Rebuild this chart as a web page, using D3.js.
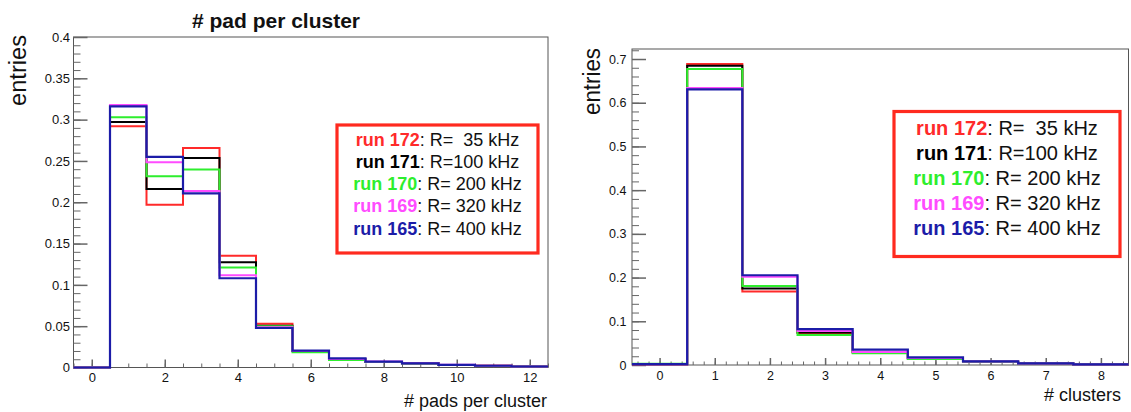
<!DOCTYPE html>
<html><head><meta charset="utf-8">
<script src="https://cdn.jsdelivr.net/npm/d3@7"></script>
<style>
html,body{margin:0;padding:0;background:#fff;}
svg text{font-family:"Liberation Sans",Arial,Helvetica,sans-serif;}
.leg text{white-space:pre;}
</style></head><body>
<svg id="c" width="1131" height="412"></svg>
<script>
// ---- data ----
const runs = ["172","171","170","169","165"];
const rates = ["R=  35 kHz","R=100 kHz","R= 200 kHz","R= 320 kHz","R= 400 kHz"];
const colors = ["#ff2a2a","#000000","#2eee2e","#ff4cff","#1c1ca8"];

const padBins = [0,1,2,3,4,5,6,7,8,9,10,11,12];
const pad172 = [0,0.292,0.197,0.2656,0.1352,0.0530,0.0200,0.0100,0.0068,0.0050,0.0031,0.0020,0.0011];
const pad171 = [0,0.297,0.216,0.2536,0.1275,0.0506,0.0200,0.0100,0.0068,0.0050,0.0031,0.0020,0.0011];
const pad170 = [0,0.303,0.2316,0.2396,0.1210,0.0498,0.0186,0.0092,0.0066,0.0048,0.0030,0.0019,0.0011];
const pad169 = [0,0.3176,0.2484,0.2136,0.1117,0.0486,0.0200,0.0102,0.0073,0.0051,0.0032,0.0020,0.0012];
const pad165 = [0,0.316,0.2548,0.2108,0.1080,0.0478,0.0205,0.0110,0.0070,0.0050,0.0032,0.0021,0.0012];

const cluBins = [0,1,2,3,4,5,6,7,8];
const clu172 = [0.002,0.6885,0.168,0.0730,0.0290,0.0150,0.0075,0.0035,0.0012];
const clu171 = [0.002,0.6847,0.175,0.0745,0.0290,0.0150,0.0075,0.0035,0.0012];
const clu170 = [0.003,0.6770,0.181,0.0684,0.0266,0.0137,0.0072,0.0033,0.0012];
const clu169 = [0.002,0.6336,0.202,0.0780,0.0300,0.0160,0.0078,0.0036,0.0013];
const clu165 = [0.002,0.6305,0.2053,0.0821,0.0350,0.0175,0.0082,0.0038,0.0013];

const leftYTicks = [0,0.05,0.1,0.15,0.2,0.25,0.3,0.35,0.4];
const leftXTicks = [0,2,4,6,8,10,12];
const rightYTicks = [0,0.1,0.2,0.3,0.4,0.5,0.6,0.7];
const rightXTicks = [0,1,2,3,4,5,6,7,8];

const svg = d3.select("#c");

function panel(o){
  const x = d3.scaleLinear().domain(o.xd).range(o.xr);
  const y = d3.scaleLinear().domain(o.yd).range(o.yr);
  const g = svg.append("g");
  // frame
  g.append("rect").attr("x",o.xr[0]).attr("y",o.yr[1]).attr("width",o.xr[1]-o.xr[0]).attr("height",o.yr[0]-o.yr[1])
    .attr("fill","none").attr("stroke","#555").attr("stroke-width",1);
  // minor y
  const ym = g.append("g").attr("transform",`translate(${o.xr[0]},0)`)
    .call(d3.axisLeft(y).tickValues(o.yMinor).tickSize(-o.ymLen).tickFormat(""));
  ym.select(".domain").remove();
  ym.selectAll("line").attr("stroke","#666");
  const yM = g.append("g").attr("transform",`translate(${o.xr[0]},0)`)
    .call(d3.axisLeft(y).tickValues(o.yTicks).tickSize(-o.yMLen).tickPadding(o.yPad)
      .tickFormat(d=>String(+d.toFixed(2))));
  yM.select(".domain").remove();
  yM.selectAll("line").attr("stroke","#666").attr("stroke-width",1.5);
  yM.selectAll("text").attr("font-size",o.tickFs).attr("fill","#111");
  // x
  const xm = g.append("g").attr("transform",`translate(0,${o.yr[0]})`)
    .call(d3.axisBottom(x).tickValues(o.xMinor).tickSize(-o.xmLen).tickFormat(""));
  xm.select(".domain").remove();
  xm.selectAll("line").attr("stroke","#666");
  const xM = g.append("g").attr("transform",`translate(0,${o.yr[0]})`)
    .call(d3.axisBottom(x).tickValues(o.xTicks).tickSize(-o.xMLen).tickPadding(o.xPad).tickFormat(d=>String(d)));
  xM.select(".domain").remove();
  xM.selectAll("line").attr("stroke","#666").attr("stroke-width",1.5);
  xM.selectAll("text").attr("font-size",o.tickFs).attr("fill","#111");
  // histograms
  const line = d3.line().x(d=>x(d[0])).y(d=>y(d[1])).curve(d3.curveStepAfter);
  o.series.forEach((s,i)=>{
    const pts = o.bins.map((b,j)=>[b-0.5,s[j]]);
    pts.push([o.bins[o.bins.length-1]+0.5,s[s.length-1]]);
    g.append("path").attr("d",line(pts)).attr("fill","none")
      .attr("stroke",colors[i]).attr("stroke-width",i===4?2.2:2);
  });
  // axis titles
  g.append("text").attr("transform",`translate(${o.yLab[0]},${o.yLab[1]}) rotate(-90)`)
    .attr("text-anchor","end").attr("font-size",23).attr("fill","#111")
    .attr("textLength",o.yLab[2]).attr("lengthAdjust","spacingAndGlyphs").text("entries");
  g.append("text").attr("x",o.xLab[0]).attr("y",o.xLab[1]).attr("text-anchor","end")
    .attr("font-size",18).attr("fill","#111").text(o.xTitle);
  // legend
  const L = o.leg;
  const lg = g.append("g").attr("class","leg");
  lg.append("rect").attr("x",L.x0).attr("y",L.y0).attr("width",L.x1-L.x0).attr("height",L.y1-L.y0)
    .attr("fill","#fff").attr("stroke","#ff2a1f").attr("stroke-width",3.2);
  runs.forEach((r,i)=>{
    const t = lg.append("text").attr("x",(L.x0+L.x1)/2).attr("y",L.b0+i*L.dy)
      .attr("text-anchor","middle").attr("font-size",L.fs).attr("xml:space","preserve");
    t.append("tspan").attr("font-weight","bold").attr("fill",colors[i]).text("run "+r);
    t.append("tspan").attr("fill","#111").text(": "+rates[i]);
  });
}

panel({
  xd:[-0.5,12.5], xr:[73.5,548], yd:[0,0.4], yr:[367.5,37],
  yTicks:leftYTicks, yMinor:d3.range(0,0.4001,0.01), xTicks:leftXTicks, xMinor:d3.range(-0.5,12.51,0.5),
  ymLen:7, yMLen:14, xmLen:4, xMLen:8, yPad:3.5, xPad:5, tickFs:13,
  bins:padBins, series:[pad172,pad171,pad170,pad169,pad165],
  yLab:[26,35,71], xLab:[547,407], xTitle:"# pads per cluster",
  leg:{x0:337,x1:538,y0:125,y1:253,b0:145.5,dy:22.3,fs:18}
});
panel({
  xd:[-0.5,8.5], xr:[632,1128.5], yd:[0,0.7229], yr:[365,49],
  yTicks:rightYTicks, yMinor:d3.range(0,0.7201,0.02), xTicks:rightXTicks, xMinor:d3.range(-0.4,8.41,0.2),
  ymLen:7, yMLen:14, xmLen:3.5, xMLen:7, yPad:5.5, xPad:6, tickFs:12.5,
  bins:cluBins, series:[clu172,clu171,clu170,clu169,clu165],
  yLab:[600,48,67], xLab:[1121,401], xTitle:"# clusters",
  leg:{x0:894,x1:1120,y0:111.5,y1:256.5,b0:135,dy:25,fs:20}
});
svg.append("text").attr("x",276).attr("y",28).attr("text-anchor","middle")
  .attr("font-size",21).attr("font-weight","bold").attr("fill","#111").text("# pad per cluster");
</script>
</body></html>
